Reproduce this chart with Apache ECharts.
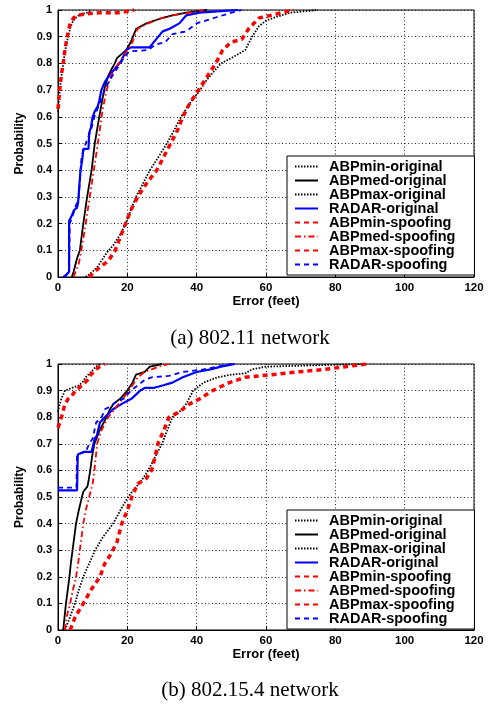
<!DOCTYPE html>
<html>
<head>
<meta charset="utf-8">
<script src="https://cdn.jsdelivr.net/npm/echarts@6/dist/echarts.min.js"></script>
<style>html,body{margin:0;padding:0;background:#fff;}#c{width:490px;height:704px;}</style>
</head>
<body>
<div id="c"></div>
<script>
const seriesNames = ['ABPmin-original','ABPmed-original','ABPmax-original','RADAR-original','ABPmin-spoofing','ABPmed-spoofing','ABPmax-spoofing','RADAR-spoofing'];
const xTicks = [0, 20, 40, 60, 80, 100, 120];
const yTicks = [0, 0.1, 0.2, 0.3, 0.4, 0.5, 0.6, 0.7, 0.8, 0.9, 1];
const captions = ['(a) 802.11 network', '(b) 802.15.4 network'];

// (a) 802.11 network
const wifiMinOrig = [[0,0.62],[0.5,0.7],[1,0.75],[1.5,0.8],[2,0.84],[2.5,0.88],[3,0.9],[3.5,0.93],[4,0.95],[5,0.97],[6,0.98],[7,0.985],[8.5,0.99],[9.5,1]];
const wifiMedOrig = [[4,0],[4.5,0.02],[5.5,0.07],[6.3,0.1],[7.3,0.2],[8.4,0.3],[9.7,0.4],[10.6,0.5],[11.9,0.6],[13.3,0.7],[14.4,0.75],[15.5,0.78],[16.4,0.8],[17,0.82],[19.7,0.85],[21,0.88],[21.6,0.9],[22.6,0.93],[25.5,0.95],[30,0.97],[33,0.98],[37,0.99],[43,1]];
const wifiMaxOrig = [[8,0],[10,0.02],[11.5,0.04],[13,0.07],[14,0.09],[16,0.12],[18,0.16],[19.5,0.2],[21,0.25],[22.5,0.3],[24.5,0.35],[26.5,0.4],[29,0.45],[31.4,0.5],[33.5,0.55],[35.5,0.6],[38,0.65],[41,0.7],[43,0.74],[45,0.77],[47,0.8],[50,0.82],[54,0.85],[56,0.9],[58,0.94],[60,0.96],[62,0.97],[67,0.99],[75,1]];
const wifiRadarOrig = [[1.5,0],[2.5,0.01],[3.2,0.02],[3.2,0.21],[4,0.23],[4.6,0.25],[5.5,0.26],[5.8,0.28],[6.2,0.35],[6.5,0.4],[7,0.44],[7.3,0.48],[8.8,0.48],[9,0.54],[9.5,0.56],[10,0.6],[10.6,0.62],[11.5,0.64],[11.9,0.66],[12.5,0.7],[13.5,0.73],[14.5,0.75],[16.4,0.78],[18.3,0.81],[19.7,0.85],[21,0.86],[26.4,0.86],[28.3,0.89],[30.2,0.92],[32.2,0.93],[35,0.95],[37,0.98],[40.8,0.99],[52,1]];
const wifiMinSpoof = [[0,0.63],[0.5,0.7],[1,0.76],[1.5,0.8],[2,0.85],[2.5,0.89],[3,0.92],[3.5,0.95],[4.5,0.97],[5.5,0.98],[8,0.985],[12,0.99],[18,0.99],[22,1]];
const wifiMedSpoof = [[4.5,0],[6,0.05],[7,0.12],[8,0.2],[9.5,0.33],[11.5,0.5],[12.8,0.62],[14,0.7],[15.5,0.76],[17.5,0.8],[20,0.85],[21.5,0.88],[22,0.9],[23,0.93],[26,0.95],[30,0.97],[33,0.98],[38,0.99],[42,1]];
const wifiMaxSpoof = [[9,0],[10.5,0.02],[12.5,0.04],[14.5,0.06],[16.5,0.1],[18,0.15],[19.5,0.2],[21,0.25],[23,0.3],[25.5,0.35],[28.5,0.4],[30.5,0.45],[32.5,0.5],[34.5,0.55],[36,0.6],[38,0.65],[40.5,0.7],[43,0.75],[45.5,0.8],[47.5,0.85],[50,0.88],[53,0.89],[55,0.93],[58,0.97],[63,0.985],[68,1]];
const wifiRadarSpoof = [[2,0],[3.2,0.02],[3.4,0.2],[4.5,0.24],[6,0.3],[6.5,0.4],[6.8,0.45],[8,0.5],[9.5,0.55],[10.5,0.6],[12,0.65],[13.5,0.7],[15,0.74],[17,0.78],[19,0.82],[20.5,0.845],[26,0.85],[28,0.87],[31,0.88],[33,0.91],[37,0.92],[40,0.95],[45,0.97],[50,0.99],[53,1]];

// (b) 802.15.4 network
const zigMinOrig = [[0,0.82],[0.5,0.85],[1,0.87],[2,0.9],[4,0.91],[6,0.92],[7,0.93],[8,0.95],[9.5,0.97],[11,0.99],[12,1]];
const zigMedOrig = [[1.5,0],[1.9,0.05],[2.3,0.1],[2.8,0.15],[3.3,0.2],[3.7,0.25],[4.2,0.3],[4.7,0.35],[5.2,0.4],[6,0.45],[6.9,0.5],[7.3,0.52],[8.5,0.54],[8.8,0.56],[9.3,0.6],[9.8,0.65],[10.5,0.7],[12,0.75],[14,0.8],[15,0.83],[16,0.85],[18,0.87],[20,0.9],[21.5,0.93],[22.5,0.96],[25,0.97],[26.5,0.99],[30,1]];
const zigMaxOrig = [[2,0],[3.5,0.05],[4.9,0.1],[6,0.15],[7.3,0.2],[9,0.25],[10.7,0.3],[13,0.35],[15.9,0.4],[18,0.45],[20.2,0.5],[22,0.53],[24,0.56],[26,0.6],[28,0.65],[30,0.7],[31.5,0.75],[33,0.8],[35,0.82],[37,0.85],[39,0.9],[42,0.93],[46,0.95],[50,0.96],[54,0.965],[56,0.98],[60,0.99],[88,1]];
const zigRadarOrig = [[0,0.525],[5.5,0.525],[5.7,0.66],[7.5,0.67],[9.7,0.67],[10.6,0.72],[11.2,0.73],[12.1,0.78],[13.5,0.8],[15.9,0.83],[18.4,0.85],[21.3,0.87],[23.7,0.9],[25,0.91],[27.5,0.91],[30.4,0.92],[33,0.93],[36,0.95],[40,0.97],[44,0.98],[47,0.99],[51,1]];
const zigMinSpoof = [[0,0.76],[0.5,0.78],[1,0.8],[2,0.85],[3,0.87],[4,0.88],[5,0.9],[7,0.92],[8.5,0.94],[9.5,0.96],[11,0.98],[12,0.99],[13.5,1]];
const zigMedSpoof = [[2,0],[2.5,0.05],[3.5,0.1],[4.3,0.15],[5.2,0.2],[5.8,0.25],[6.3,0.3],[6.8,0.35],[7.3,0.4],[8,0.45],[9,0.5],[10,0.55],[10.5,0.6],[10.9,0.65],[11.3,0.7],[12.5,0.75],[14.5,0.8],[17.5,0.85],[20.5,0.9],[22,0.93],[23,0.95],[25,0.97],[27,0.98],[29,0.99],[32,1]];
const zigMaxSpoof = [[3.5,0],[5,0.05],[7.3,0.1],[9.5,0.15],[12.1,0.2],[13.5,0.25],[15,0.28],[17,0.33],[18.4,0.4],[20,0.45],[21.3,0.5],[23,0.55],[25.5,0.57],[27,0.6],[28,0.65],[28.8,0.7],[30.5,0.75],[32,0.8],[35,0.82],[38,0.85],[41,0.87],[44.6,0.9],[49.4,0.93],[54,0.95],[61.7,0.96],[69,0.97],[77,0.98],[83,0.99],[89,1]];
const zigRadarSpoof = [[0,0.535],[5.3,0.535],[5.5,0.66],[8,0.67],[9,0.7],[10,0.72],[11,0.78],[12.6,0.8],[13.5,0.83],[15,0.84],[17,0.86],[19,0.87],[21,0.9],[23,0.92],[25,0.94],[27,0.95],[32,0.955],[36,0.97],[42,0.98],[46,0.99],[50,1]];

const wifiData = [wifiMinOrig, wifiMedOrig, wifiMaxOrig, wifiRadarOrig, wifiMinSpoof, wifiMedSpoof, wifiMaxSpoof, wifiRadarSpoof];
const zigData = [zigMinOrig, zigMedOrig, zigMaxOrig, zigRadarOrig, zigMinSpoof, zigMedSpoof, zigMaxSpoof, zigRadarSpoof];

const styles = [
  {color:'#000000', width:1.8, type:[1.5,1.5]},
  {color:'#000000', width:1.8, type:'solid'},
  {color:'#000000', width:1.8, type:[1.5,1.5]},
  {color:'#0000ff', width:2.2, type:'solid'},
  {color:'#ff0000', width:3.5, type:[5,4]},
  {color:'#ff0000', width:1.8, type:[6,3,1.5,3]},
  {color:'#ff0000', width:3.5, type:[5,4]},
  {color:'#0000ff', width:1.8, type:[5,4]}
];

const FONT = 'Liberation Sans';
const grids = [
  {left:58, top:10, width:416, height:267},
  {left:58, top:364, width:416, height:266}
];

function xAxisFor(i){
  return {
    type:'value', gridIndex:i, min:0, max:120, interval:20,
    name:'Error (feet)', nameLocation:'middle', nameGap:18,
    nameTextStyle:{fontFamily:FONT, fontSize:13, fontWeight:'bold', color:'#000'},
    axisLine:{show:true, lineStyle:{color:'#000', width:1}},
    axisTick:{show:true, inside:true, length:4, lineStyle:{color:'#000'}},
    axisLabel:{fontFamily:FONT, fontSize:11.5, fontWeight:'bold', color:'#000', margin:5},
    splitLine:{show:true, lineStyle:{color:'#222', width:1, type:[1,2.5]}}
  };
}
function yAxisFor(i){
  return {
    type:'value', gridIndex:i, min:0, max:1, interval:0.1,
    name:'Probability', nameLocation:'middle', nameGap:27, nameRotate:90,
    nameTextStyle:{fontFamily:FONT, fontSize:12, fontWeight:'bold', color:'#000'},
    axisLine:{show:true, lineStyle:{color:'#000', width:1}},
    axisTick:{show:true, inside:true, length:4, lineStyle:{color:'#000'}},
    axisLabel:{fontFamily:FONT, fontSize:11, fontWeight:'bold', color:'#000', margin:6},
    splitLine:{show:true, lineStyle:{color:'#222', width:1, type:[1,2.5]}}
  };
}

const series = [];
[wifiData, zigData].forEach(function(set, gi){
  set.forEach(function(d, k){
    series.push({
      name: seriesNames[k], type:'line', xAxisIndex:gi, yAxisIndex:gi,
      data: d, symbol:'none', showSymbol:false, animation:false,
      lineStyle:{color:styles[k].color, width:styles[k].width, type:styles[k].type},
      itemStyle:{color:styles[k].color},
      z: 2 + k
    });
  });
});

function legendFor(top){
  return {
    show:true, orient:'vertical', left:287, top:top,
    data: seriesNames,
    backgroundColor:'#fff', borderColor:'#000', borderWidth:1, borderRadius:0,
    padding:[3,19,3,7], itemWidth:23, itemHeight:14, itemGap:-1,
    selectedMode:false,
    itemStyle:{opacity:0},
    textStyle:{fontFamily:FONT, fontSize:14.5, fontWeight:'bold', color:'#000', padding:[0,0,0,6], lineHeight:14}
  };
}

const option = {
  backgroundColor:'#fff',
  animation:false,
  grid: grids.map(function(g){ return Object.assign({show:true, borderColor:'#000', borderWidth:1, backgroundColor:'#fff'}, g); }),
  xAxis:[xAxisFor(0), xAxisFor(1)],
  yAxis:[yAxisFor(0), yAxisFor(1)],
  legend:[legendFor(156), legendFor(510)],
  series: series,
  graphic:[
    {type:'text', x:250, y:338, style:{text:captions[0], font:'21px "Liberation Serif"', fill:'#000', align:'center', verticalAlign:'middle'}},
    {type:'text', x:250, y:690, style:{text:captions[1], font:'21px "Liberation Serif"', fill:'#000', align:'center', verticalAlign:'middle'}}
  ]
};

const chart = echarts.init(document.getElementById('c'), null, {renderer:'canvas'});
chart.setOption(option);
</script>
</body>
</html>
